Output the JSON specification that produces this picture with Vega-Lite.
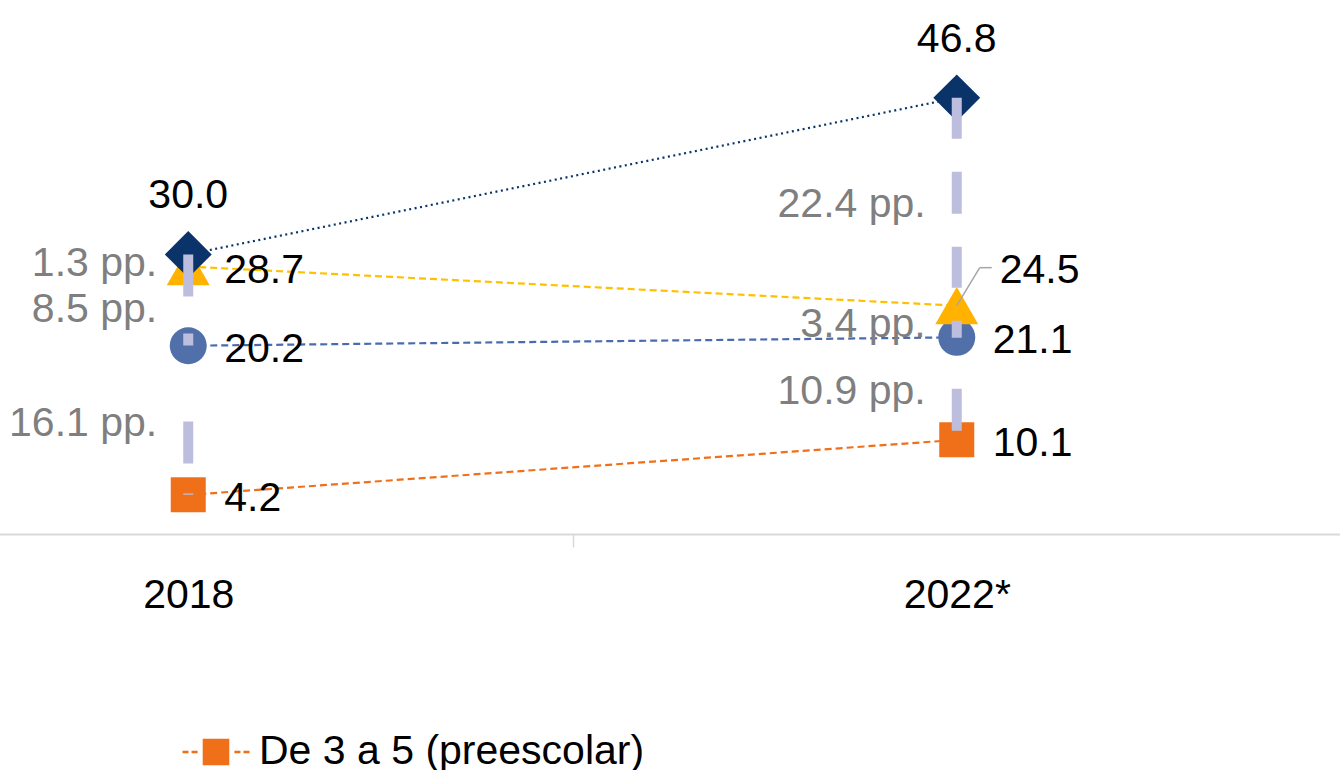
{
  "$schema": "https://vega.github.io/schema/vega-lite/v6.json",
  "width": 1340,
  "height": 534,
  "autosize": {"type": "none"},
  "padding": {"left": 0, "top": 0, "right": 0, "bottom": 236},
  "background": "white",
  "config": {"view": {"stroke": null}, "font": "Liberation Sans"},
  "datasets": {
    "series": [
      {"year": "2018", "group": "De 3 a 5 (preescolar)", "value": 4.2},
      {"year": "2022*", "group": "De 3 a 5 (preescolar)", "value": 10.1},
      {"year": "2018", "group": "De 6 a 11 (primaria)", "value": 20.2},
      {"year": "2022*", "group": "De 6 a 11 (primaria)", "value": 21.1},
      {"year": "2018", "group": "De 12 a 14 (secundaria)", "value": 28.7},
      {"year": "2022*", "group": "De 12 a 14 (secundaria)", "value": 24.5},
      {"year": "2018", "group": "De 15 a 17 (media superior)", "value": 30.0},
      {"year": "2022*", "group": "De 15 a 17 (media superior)", "value": 46.8}
    ],
    "gaps": [
      {"year": "2018", "from": 30.0, "to": 28.7, "gap": "1.3 pp."},
      {"year": "2018", "from": 28.7, "to": 20.2, "gap": "8.5 pp."},
      {"year": "2018", "from": 20.2, "to": 4.2, "gap": "16.1 pp."},
      {"year": "2022*", "from": 46.8, "to": 24.5, "gap": "22.4 pp."},
      {"year": "2022*", "from": 24.5, "to": 21.1, "gap": "3.4 pp."},
      {"year": "2022*", "from": 21.1, "to": 10.1, "gap": "10.9 pp."}
    ],
    "ranges": [
      {"year": "2018", "high": 30.0, "low": 4.2},
      {"year": "2022*", "high": 46.8, "low": 10.1}
    ]
  },
  "encoding": {
    "x": {
      "field": "year",
      "type": "nominal",
      "sort": ["2018", "2022*"],
      "scale": {"type": "band", "range": [-196, 1341], "paddingInner": 0, "paddingOuter": 0},
      "axis": {
        "title": null,
        "labelAngle": 0,
        "grid": false,
        "domainColor": "#d9d9d9",
        "domainWidth": 2,
        "tickColor": "#d9d9d9",
        "tickWidth": 1.5,
        "tickSize": 13,
        "tickBand": "extent",
        "labelFont": "Liberation Sans",
        "labelFontSize": 41,
        "labelColor": "#000000",
        "labelBaseline": "alphabetic",
        "labelPadding": 60
      }
    }
  },
  "layer": [
    {
      "data": {"name": "series"},
      "mark": {"type": "line", "strokeWidth": 2.2},
      "encoding": {
        "y": {"field": "value", "type": "quantitative", "scale": {"domain": [0, 57.3], "nice": false, "zero": true}, "axis": null},
        "stroke": {
          "field": "group", "type": "nominal",
          "scale": {"domain": ["De 3 a 5 (preescolar)", "De 6 a 11 (primaria)", "De 12 a 14 (secundaria)", "De 15 a 17 (media superior)"],
                    "range": ["#F0701A", "#4A6BAE", "#FFC000", "#0A3469"]},
          "legend": null
        },
        "strokeDash": {
          "field": "group", "type": "nominal",
          "scale": {"domain": ["De 3 a 5 (preescolar)", "De 6 a 11 (primaria)", "De 12 a 14 (secundaria)", "De 15 a 17 (media superior)"],
                    "range": [[7, 4], [7, 4], [7, 4], [2, 3.5]]},
          "legend": null
        }
      }
    },
    {
      "data": {"name": "series"},
      "transform": [{"filter": "datum.group === 'De 6 a 11 (primaria)'"}],
      "mark": {"type": "point", "shape": "circle", "size": 1369, "filled": true, "opacity": 1, "strokeWidth": 0, "color": "#5170AA"},
      "encoding": {
        "y": {"field": "value", "type": "quantitative", "axis": null}
      }
    },
    {
      "data": {"name": "series"},
      "transform": [{"filter": "datum.group === 'De 12 a 14 (secundaria)'"}],
      "mark": {"type": "point", "shape": "triangle-up", "size": 1850, "filled": true, "opacity": 1, "strokeWidth": 0, "color": "#FFB300"},
      "encoding": {
        "y": {"field": "value", "type": "quantitative", "axis": null}
      }
    },
    {
      "data": {"name": "series"},
      "transform": [{"filter": "datum.group === 'De 15 a 17 (media superior)'"}],
      "mark": {"type": "point", "shape": "diamond", "size": 2200, "filled": true, "opacity": 1, "strokeWidth": 0, "color": "#0A3469"},
      "encoding": {
        "y": {"field": "value", "type": "quantitative", "axis": null}
      }
    },
    {
      "data": {"name": "series"},
      "transform": [{"filter": "datum.group === 'De 3 a 5 (preescolar)'"}],
      "mark": {"type": "point", "shape": "square", "size": 1225, "filled": true, "opacity": 1},
      "encoding": {
        "y": {"field": "value", "type": "quantitative", "axis": null},
        "color": {
          "field": "group", "type": "nominal",
          "scale": {"domain": ["De 3 a 5 (preescolar)"], "range": ["#F0701A"]},
          "legend": {
            "title": null,
            "orient": "none",
            "legendX": 181,
            "legendY": 717,
            "padding": 0,
            "symbolType": "M-1,0H-0.82M-0.73,0H-0.55M0.55,0H0.73M0.82,0H1M-0.36,-0.36H0.36V0.36H-0.36Z",
            "symbolSize": 4489,
            "symbolStrokeWidth": 2.5,
            "symbolStrokeColor": "#F0701A",
            "symbolFillColor": "#F0701A",
            "labelFont": "Liberation Sans",
            "labelFontSize": 41,
            "labelColor": "#000000",
            "labelOffset": 8,
            "labelLimit": 600,
            "encode": {
              "symbols": {
                "update": {
                  "stroke": {"value": "#F0701A"},
                  "fill": {"value": "#F0701A"},
                  "strokeWidth": {"value": 2.5},
                  "opacity": {"value": 1}
                }
              }
            }
          }
        }
      }
    },
    {
      "data": {"name": "ranges"},
      "transform": [{"filter": "datum.year === '2018'"}],
      "mark": {"type": "rule", "color": "#BDBEDD", "strokeWidth": 10, "strokeCap": "butt", "strokeDash": [42, 37, 12, 76, 42, 30, 3, 100]},
      "encoding": {
        "y": {"field": "high", "type": "quantitative", "axis": null},
        "y2": {"field": "low"}
      }
    },
    {
      "data": {"name": "ranges"},
      "transform": [{"filter": "datum.year === '2022*'"}],
      "mark": {"type": "rule", "color": "#BDBEDD", "strokeWidth": 10, "strokeCap": "butt", "strokeDash": [41, 33, 42, 33, 41, 33, 17, 51, 42, 100]},
      "encoding": {
        "y": {"field": "high", "type": "quantitative", "axis": null},
        "y2": {"field": "low"}
      }
    },
    {
      "data": {"name": "series"},
      "transform": [{"filter": "datum.year === '2022*' && datum.group === 'De 12 a 14 (secundaria)'"}],
      "mark": {"type": "rule", "color": "#A6A6A6", "strokeWidth": 1.5, "x2Offset": 23, "y2Offset": -38},
      "encoding": {
        "y": {"field": "value", "type": "quantitative", "axis": null},
        "x2": {"field": "year"},
        "y2": {"field": "value"}
      }
    },
    {
      "data": {"name": "series"},
      "transform": [{"filter": "datum.year === '2022*' && datum.group === 'De 12 a 14 (secundaria)'"}],
      "mark": {"type": "rule", "color": "#A6A6A6", "strokeWidth": 1.5, "xOffset": 23, "yOffset": -38, "x2Offset": 35, "y2Offset": -38},
      "encoding": {
        "y": {"field": "value", "type": "quantitative", "axis": null},
        "x2": {"field": "year"},
        "y2": {"field": "value"}
      }
    },
    {
      "data": {"name": "gaps"},
      "transform": [{"fold": ["from", "to"], "as": ["end", "v"]}],
      "mark": {"type": "text", "align": "right", "baseline": "alphabetic", "dx": -31, "dy": 15.5, "font": "Liberation Sans", "fontSize": 41, "color": "#7F7F7F"},
      "encoding": {
        "y": {"aggregate": "mean", "field": "v", "type": "quantitative", "axis": null},
        "text": {"field": "gap", "type": "nominal"}
      }
    },
    {
      "data": {"name": "series"},
      "transform": [{"filter": "datum.group === 'De 15 a 17 (media superior)'"}],
      "mark": {"type": "text", "align": "center", "baseline": "alphabetic", "dy": -46, "font": "Liberation Sans", "fontSize": 41, "color": "#000000"},
      "encoding": {
        "y": {"field": "value", "type": "quantitative", "axis": null},
        "text": {"field": "value", "type": "quantitative", "format": ".1f"}
      }
    },
    {
      "data": {"name": "series"},
      "transform": [{"filter": "datum.group !== 'De 15 a 17 (media superior)' && !(datum.year === '2022*' && datum.group === 'De 12 a 14 (secundaria)')"}],
      "mark": {"type": "text", "align": "left", "baseline": "alphabetic", "dx": 36, "dy": 16, "font": "Liberation Sans", "fontSize": 41, "color": "#000000"},
      "encoding": {
        "y": {"field": "value", "type": "quantitative", "axis": null},
        "text": {"field": "value", "type": "quantitative", "format": ".1f"}
      }
    },
    {
      "data": {"name": "series"},
      "transform": [{"filter": "datum.year === '2022*' && datum.group === 'De 12 a 14 (secundaria)'"}],
      "mark": {"type": "text", "align": "left", "baseline": "alphabetic", "dx": 43, "dy": -23, "font": "Liberation Sans", "fontSize": 41, "color": "#000000"},
      "encoding": {
        "y": {"field": "value", "type": "quantitative", "axis": null},
        "text": {"field": "value", "type": "quantitative", "format": ".1f"}
      }
    }
  ]
}
